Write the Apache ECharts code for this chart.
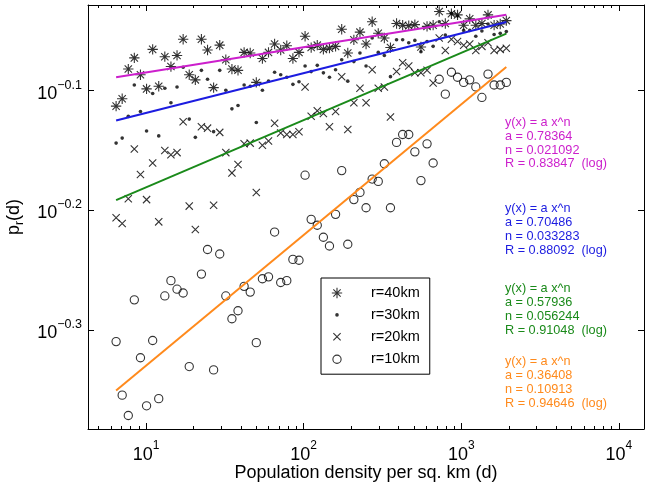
<!DOCTYPE html>
<html><head><meta charset="utf-8">
<script src="https://cdn.jsdelivr.net/npm/echarts@6/dist/echarts.min.js"></script>
<style>html,body{margin:0;padding:0;background:#fff}#c{width:649px;height:488px}</style>
</head><body><div id="c"></div>
<script>
// ---- data ----
const density = [6.46,7.06,7.72,8.43,9.22,10.08,11.02,12.04,13.16,14.39,
  15.73,17.20,18.80,20.55,22.46,24.56,26.84,29.35,32.08,35.07,
  38.33,41.91,45.81,50.07,54.74,59.84,65.41,71.51,78.16,85.45,
  93.41,102.1,111.6,122.0,133.4,145.8,159.4,174.3,190.5,208.2,
  227.6,248.8,272.0,297.3,325.0,355.3,388.4,424.6,464.1,507.4,
  554.6,606.3,662.8,724.4,791.9,865.7,946.4,1035,1131,1236,
  1351,1477,1615,1766,1930];
const r40 = [0.771,0.782,0.828,0.846,0.819,0.797,0.860,0.801,0.848,0.832,
  0.850,0.877,0.819,0.811,0.877,0.859,0.799,0.867,0.843,0.828,
  0.826,0.855,0.854,0.807,0.845,0.855,0.869,0.859,0.866,0.845,
  0.855,0.882,0.863,0.867,0.860,0.862,0.865,0.894,0.854,0.876,
  0.889,0.869,0.907,0.887,0.879,0.863,0.904,0.901,0.900,0.902,
  0.864,0.899,0.901,0.925,0.904,0.921,0.919,0.901,0.912,0.901,
  0.904,0.919,0.901,0.903,0.909];
const r30 = [0.718,0.725,0.756,0.803,0.763,0.735,0.790,0.728,0.798,0.776,
  0.800,0.831,0.752,0.726,0.826,0.812,0.734,0.826,0.795,0.767,
  0.772,0.803,0.801,0.747,0.795,0.809,0.823,0.819,0.815,0.804,
  0.808,0.833,0.824,0.834,0.822,0.815,0.827,0.843,0.809,0.840,
  0.854,0.833,0.879,0.855,0.850,0.816,0.876,0.876,0.871,0.875,
  0.856,0.873,0.865,0.907,0.884,0.922,0.917,0.892,0.892,0.882,
  0.891,0.903,0.885,0.887,0.890];
const r20 = [0.622,0.615,0.645,0.710,0.676,0.644,0.691,0.617,0.708,0.702,
  0.705,0.748,0.636,0.608,0.741,0.739,0.637,0.733,0.705,0.678,
  0.689,0.717,0.718,0.653,0.715,0.721,0.746,0.732,0.730,0.730,
  0.734,0.800,0.756,0.764,0.760,0.741,0.763,0.816,0.737,0.776,
  0.798,0.776,0.827,0.798,0.800,0.755,0.824,0.838,0.833,0.822,
  0.822,0.826,0.806,0.879,0.858,0.877,0.873,0.867,0.869,0.858,
  0.865,0.871,0.858,0.860,0.862];
const r10 = [0.490,0.442,0.425,0.531,0.475,0.433,0.491,0.439,0.535,0.551,
  0.542,0.538,0.467,null,0.558,0.585,0.464,0.580,0.535,0.512,
  0.520,0.545,0.539,0.489,0.553,0.555,0.605,0.549,0.551,0.574,
  0.573,0.675,0.620,0.613,0.599,0.589,0.626,0.681,0.591,0.644,
  0.653,0.634,0.670,0.667,0.690,0.634,0.719,0.730,0.730,0.706,
  0.668,0.717,0.691,0.812,0.789,0.823,0.815,0.807,0.811,0.800,
  0.784,0.820,0.803,0.803,0.807];

// fitted power-law lines (end points) and their labels
const fitX   = [6.46, 1930];
const fit40  = [0.8152, 0.9193];
const fit30  = [0.7499, 0.9067];
const fit20  = [0.6434, 0.8866];
const fit10  = [0.4460, 0.8314];
const fitA = ['0.78364','0.70486','0.57936','0.36408'];
const fitN = ['0.021092','0.033283','0.056244','0.10913'];
const fitR = ['0.83847','0.88092','0.91048','0.94646'];

const seriesNames = ['r=40km','r=30km','r=20km','r=10km'];
const xMajor = [10, 100, 1000, 10000];
const xMinor = [5,6,7,8,9,20,30,40,50,60,70,80,90,200,300,400,500,600,700,800,900,2000,3000,4000,5000,6000,7000,8000,9000];
const yTickExp = [-0.3, -0.2, -0.1];
const xRange = [4.285, 14420];
const yRange = [0.4141, 0.9367];
const xTitle = 'Population density per sq. km (d)';

// ---- styling ----
const FONT = '"Liberation Sans", Arial, Helvetica, sans-serif';
const colors = ['#cc1fcc', '#1c1ce0', '#1a8a1a', '#ff8a1c'];
const markers = {
  star: 'path://M0 0L0 0M10 10L10 10M0.3 5L9.7 5M5 0.3L5 9.7M1.68 1.68L8.32 8.32M8.32 1.68L1.68 8.32',
  dot: 'path://M0 0L0 0M10 10L10 10M6.65 5A1.65 1.65 0 1 1 3.35 5A1.65 1.65 0 1 1 6.65 5Z',
  cross: 'path://M0 0L0 0M10 10L10 10M1.7 1.7L8.3 8.3M8.3 1.7L1.7 8.3',
  ring: 'path://M0 0L0 0M10 10L10 10M8.75 5A3.75 3.75 0 1 1 1.25 5A3.75 3.75 0 1 1 8.75 5Z'
};
const MS = 11;
const yMajor = yTickExp.map(e => Math.pow(10, e));

const pts = arr => density.map((d, i) => [d, arr[i]]).filter(p => p[1] != null);

const baseX = {type:'log', logBase:10, min:xRange[0], max:xRange[1], gridIndex:0,
  splitLine:{show:false}, axisLine:{show:false}, axisLabel:{show:false}, axisTick:{show:false}, minorTick:{show:false}};
const baseY = {type:'log', logBase:10, min:yRange[0], max:yRange[1], gridIndex:0,
  splitLine:{show:false}, axisLine:{show:false}, axisLabel:{show:false}, axisTick:{show:false}, minorTick:{show:false}};
const lineBlack = {show:true, onZero:false, lineStyle:{color:'#000', width:1}};

const chart = echarts.init(document.getElementById('c'));
const option = {
  animation:false,
  backgroundColor:'#fff',
  grid:{left:88, top:5, width:556, height:424, containLabel:false, outerBoundsMode:'none'},
  xAxis:[
    Object.assign({}, baseX, {position:'bottom', axisLine:lineBlack,
      axisTick:{show:true, inside:true, length:6, customValues:xMajor, lineStyle:{color:'#000'}},
      axisLabel:{show:true, customValues:xMajor, margin:11,
        formatter: v => '{b|10}{s|' + Math.round(Math.log10(v)) + '}',
        rich:{b:{fontSize:18, lineHeight:30, fontFamily:FONT, color:'#000'},
              s:{fontSize:12, lineHeight:10.6, verticalAlign:'top', fontFamily:FONT, color:'#000'}}},
      name:xTitle, nameLocation:'middle', nameGap:35, nameMoveOverlap:false,
      nameTextStyle:{fontSize:18, color:'#000', fontFamily:FONT}}),
    Object.assign({}, baseX, {position:'bottom',
      axisTick:{show:true, inside:true, length:3, customValues:xMinor, lineStyle:{color:'#000'}}}),
    Object.assign({}, baseX, {position:'top', axisLine:lineBlack,
      axisTick:{show:true, inside:true, length:6, customValues:xMajor, lineStyle:{color:'#000'}}}),
    Object.assign({}, baseX, {position:'top',
      axisTick:{show:true, inside:true, length:3, customValues:xMinor, lineStyle:{color:'#000'}}})
  ],
  yAxis:[
    Object.assign({}, baseY, {position:'left', axisLine:lineBlack,
      axisTick:{show:true, inside:true, length:6, customValues:yMajor, lineStyle:{color:'#000'}},
      axisLabel:{show:true, customValues:yMajor, margin:6, padding:[6,0,0,0],
        formatter: v => '{b|10}{s|' + (Math.round(Math.log10(v) * 10) / 10).toFixed(1).replace('-', '\u2212') + '}',
        rich:{b:{fontSize:18, lineHeight:30, fontFamily:FONT, color:'#000'},
              s:{fontSize:12.5, lineHeight:10.6, verticalAlign:'top', fontFamily:FONT, color:'#000'}}},
      name:'{p|p}{r|r}{p|(d)}', nameLocation:'middle', nameGap:62, nameRotate:90, nameMoveOverlap:false,
      nameTextStyle:{rich:{p:{fontSize:18, lineHeight:24, fontFamily:FONT, color:'#000'},
                           r:{fontSize:12, lineHeight:12, verticalAlign:'bottom', fontFamily:FONT, color:'#000'}}}}),
    Object.assign({}, baseY, {position:'right', axisLine:lineBlack,
      axisTick:{show:true, inside:true, length:6, customValues:yMajor, lineStyle:{color:'#000'}}})
  ],
  legend:{show:true, orient:'vertical', left:321, top:278, padding:[7,10,7,8],
    itemWidth:58, itemHeight:MS, itemGap:6.4, borderColor:'#000', borderWidth:1,
    backgroundColor:'#fff', borderRadius:0, selectedMode:false,
    textStyle:{fontSize:14.5, color:'#000', fontFamily:FONT},
    itemStyle:{borderWidth:1.1},
    data:[{name:seriesNames[0]}, {name:seriesNames[1], itemStyle:{borderWidth:0}}, {name:seriesNames[2]}, {name:seriesNames[3]}]},
  series:[]
};

const sets = [r40, r30, r20, r10];
const syms = [markers.star, markers.dot, markers.cross, markers.ring];
sets.forEach((arr, k) => {
  const filled = k === 1;
  option.series.push({type:'scatter', name:seriesNames[k], xAxisIndex:0, yAxisIndex:0,
    data:pts(arr), symbol:syms[k], symbolSize:MS, silent:true, z:2,
    itemStyle: filled ? {color:'#000', borderWidth:0} : {color:'none', borderColor:'#000', borderWidth:1.1},
    emphasis:{disabled:true}});
});
[fit40, fit30, fit20, fit10].forEach((f, k) => {
  option.series.push({type:'line', name:'fit' + k, xAxisIndex:0, yAxisIndex:0,
    data:[[fitX[0], f[0]], [fitX[1], f[1]]], symbol:'none', showSymbol:false, silent:true, z:3,
    lineStyle:{color:colors[k], width:2}, emphasis:{disabled:true}});
});

const blockTops = [115.3, 201.4, 281.5, 354.6];
option.graphic = fitA.map((a, k) => ({
  type:'text', left:505, top:blockTops[k], silent:true,
  style:{text:['y(x) = a x^n', 'a = ' + a, 'n = ' + fitN[k], 'R = ' + fitR[k] + '  (log)'].join('\n'),
    fill:colors[k], font:'12.7px ' + FONT, lineHeight:13.9}
}));

chart.setOption(option);
</script></body></html>
